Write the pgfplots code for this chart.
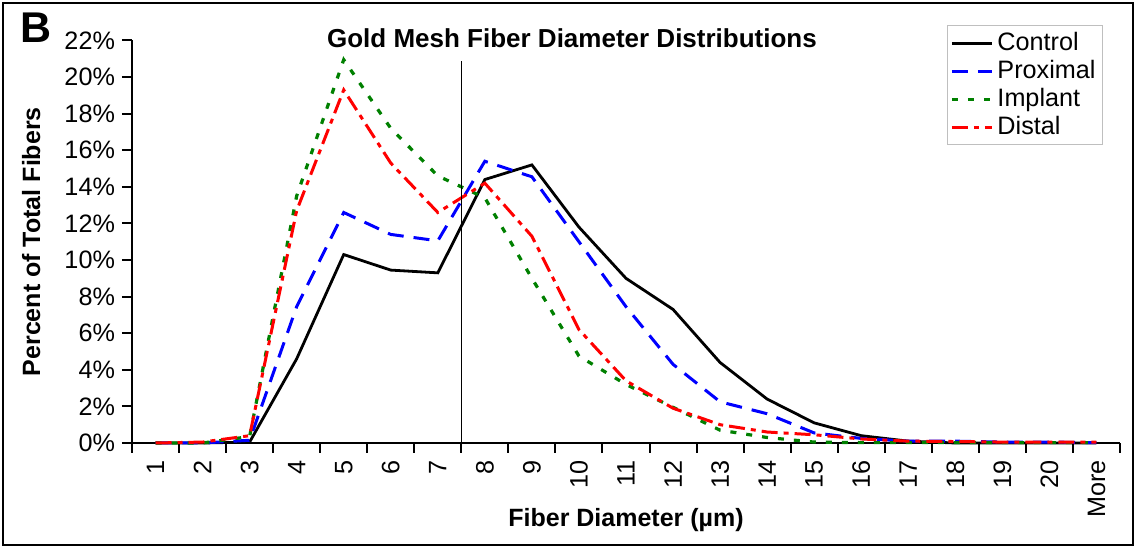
\documentclass[border=0pt]{standalone}
\usepackage{pgfplots}
\pgfplotsset{compat=1.18}
\usepackage{fontspec}
\setmainfont{Liberation Sans}
\definecolor{impgreen}{RGB}{0,128,0}
\begin{document}
\begin{tikzpicture}
\useasboundingbox (0,0) rectangle (567.5pt,275pt);
\draw[line width=1pt] (1.5pt,2.5pt) rectangle (566.5pt,273.5pt);
\node[anchor=base west, font=\fontsize{21.5}{24}\selectfont\bfseries, inner sep=0pt] at (10pt,253.5pt) {B};
\begin{axis}[
  at={(66pt,53.5pt)}, anchor=south west,
  scale only axis, width=494pt, height=201.25pt,
  xmin=0.5, xmax=21.5, ymin=0, ymax=22,
  clip=false,
  axis x line=bottom, axis y line=left,
  axis line style={line width=1pt, -},
  tick align=outside, major tick length=5pt,
  tick style={line width=1pt, black},
  xtick={0.5,1.5,2.5,3.5,4.5,5.5,6.5,7.5,8.5,9.5,10.5,11.5,12.5,13.5,14.5,15.5,16.5,17.5,18.5,19.5,20.5,21.5},
  x tick label as interval,
  xticklabels={1,2,3,4,5,6,7,8,9,10,11,12,13,14,15,16,17,18,19,20,More},
  x tick label style={rotate=90, anchor=east},
  ytick={0,2,...,22},
  yticklabel={\pgfmathprintnumber{\tick}\%},
  /pgf/number format/assume math mode=true,
  tick label style={font=\fontsize{12.6}{14}\selectfont},
  xlabel={Fiber Diameter (µm)},
  ylabel={Percent of Total Fibers},
  xlabel style={at={(axis description cs:0.5,-0.191)}, anchor=center, font=\bfseries\fontsize{12.5}{15}\selectfont},
  ylabel style={at={(axis description cs:-0.102,0.5)}, anchor=center, font=\bfseries\fontsize{12.5}{15}\selectfont},
  title={Gold Mesh Fiber Diameter Distributions},
  title style={at={(axis description cs:0.4453,0.98)}, anchor=base, yshift=-5.5pt, font=\bfseries\fontsize{13}{15}\selectfont},
  legend style={at={(0.9828,1.0385)}, anchor=north east, draw=gray!50, line width=0.5pt,
    font=\fontsize{12.6}{14}\selectfont, row sep=-0.6pt, inner sep=1.5pt},
  legend cell align=left,
  legend image code/.code={\draw[#1] (0pt,0pt) -- (20pt,0pt);},
]
\addplot[black, line width=1.4pt] coordinates {
(1,0) (2,0) (3,0.05) (4,4.6) (5,10.3) (6,9.45) (7,9.3) (8,14.4) (9,15.2) (10,11.8)
(11,9.0) (12,7.3) (13,4.4) (14,2.4) (15,1.1) (16,0.4) (17,0.1) (18,0) (19,0) (20,0) (21,0)};
\addlegendentry{Control}
\addplot[blue, line width=1.5pt, dash pattern=on 8pt off 5pt] coordinates {
(1,0) (2,0) (3,0.15) (4,7.45) (5,12.6) (6,11.4) (7,11.05) (8,15.4) (9,14.55) (10,11.0)
(11,7.45) (12,4.3) (13,2.25) (14,1.6) (15,0.55) (16,0.25) (17,0.1) (18,0.1) (19,0.05) (20,0.05) (21,0.02)};
\addlegendentry{Proximal}
\addplot[impgreen, line width=1.6pt, dash pattern=on 3pt off 5pt] coordinates {
(1,0) (2,0) (3,0.35) (4,13.5) (5,20.95) (6,17.2) (7,14.6) (8,13.4) (9,9.0) (10,4.75)
(11,3.2) (12,1.95) (13,0.7) (14,0.3) (15,0.05) (16,0.02) (17,0.02) (18,0.02) (19,0.02) (20,0.02) (21,0.02)};
\addlegendentry{Implant}
\addplot[red, line width=1.5pt, dash pattern=on 8pt off 3pt on 2.5pt off 3pt] coordinates {
(1,0) (2,0.05) (3,0.4) (4,12.7) (5,19.3) (6,15.3) (7,12.6) (8,14.2) (9,11.3) (10,6.2)
(11,3.4) (12,1.9) (13,1.0) (14,0.6) (15,0.45) (16,0.22) (17,0.1) (18,0.08) (19,0.05) (20,0.05) (21,0.05)};
\addlegendentry{Distal}
\addplot[black, line width=0.75pt, forget plot] coordinates {(7.5,0) (7.5,20.9)};
\end{axis}
\end{tikzpicture}
\end{document}
